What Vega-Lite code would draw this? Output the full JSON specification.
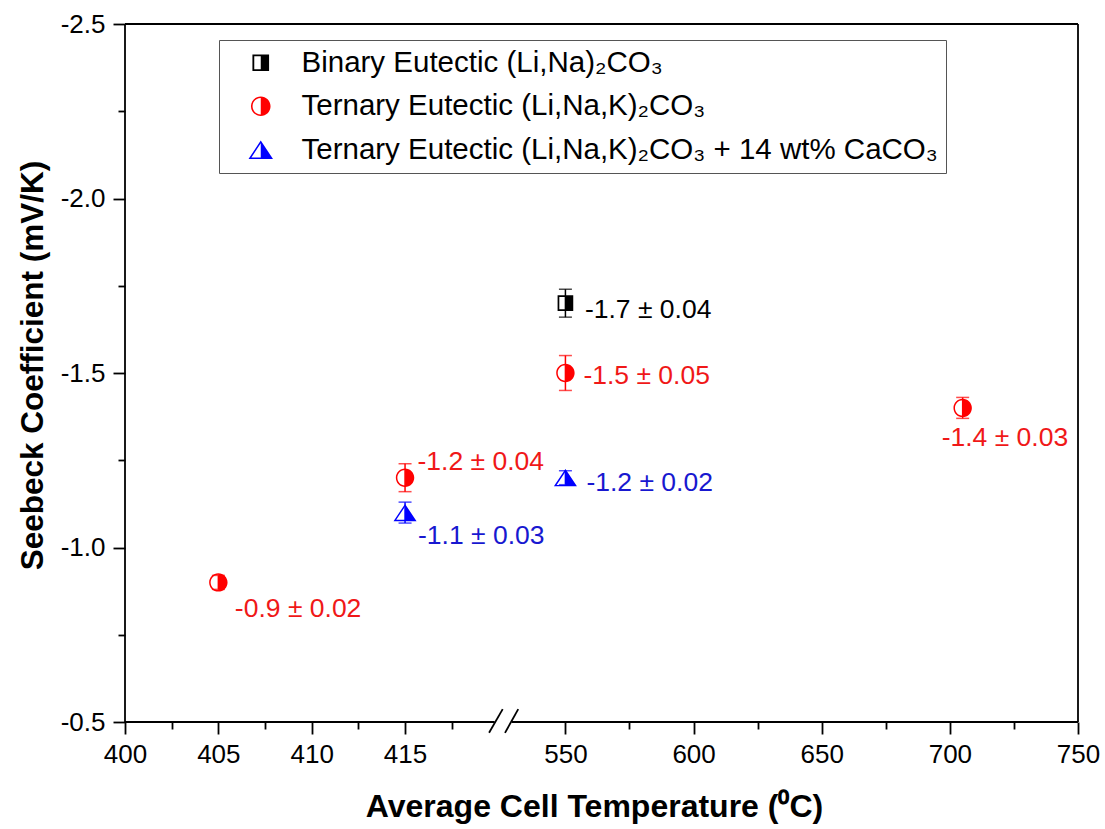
{
  "$schema": "https://vega.github.io/schema/vega-lite/v6.json",
  "width": 953,
  "height": 698,
  "autosize": {"type": "none"},
  "padding": {"left": 125, "top": 24, "right": 27, "bottom": 107},
  "background": "white",
  "config": {"view": {"stroke": null}, "font": "Liberation Sans"},
  "datasets": {
    "pts": [
      {"series": "Binary Eutectic (Li,Na)₂CO₃", "x": 550, "y": -1.7, "err": 0.04, "label": "-1.7 ± 0.04"},
      {"series": "Ternary Eutectic (Li,Na,K)₂CO₃", "x": 405, "y": -0.9, "err": 0.02, "label": "-0.9 ± 0.02"},
      {"series": "Ternary Eutectic (Li,Na,K)₂CO₃", "x": 415, "y": -1.2, "err": 0.04, "label": "-1.2 ± 0.04"},
      {"series": "Ternary Eutectic (Li,Na,K)₂CO₃", "x": 550, "y": -1.5, "err": 0.05, "label": "-1.5 ± 0.05"},
      {"series": "Ternary Eutectic (Li,Na,K)₂CO₃", "x": 705, "y": -1.4, "err": 0.03, "label": "-1.4 ± 0.03"},
      {"series": "Ternary Eutectic (Li,Na,K)₂CO₃ + 14 wt% CaCO₃", "x": 415, "y": -1.1, "err": 0.03, "label": "-1.1 ± 0.03"},
      {"series": "Ternary Eutectic (Li,Na,K)₂CO₃ + 14 wt% CaCO₃", "x": 550, "y": -1.2, "err": 0.02, "label": "-1.2 ± 0.02"}
    ],
    "frame": [
      {"x": 400, "x2": 750, "y": -2.5, "y2": -2.5},
      {"x": 750, "x2": 750, "y": -2.5, "y2": -0.5},
      {"x": 400, "x2": 400, "y": -2.5, "y2": -0.5},
      {"x": 400, "x2": 419.8, "y": -0.5, "y2": -0.5},
      {"x": 529, "x2": 750, "y": -0.5, "y2": -0.5}
    ],
    "breaks": [
      {"x": 419.5, "x2": 455.5, "y": -0.469, "y2": -0.537},
      {"x": 474.5, "x2": 531.6, "y": -0.469, "y2": -0.537}
    ]
  },
  "encoding": {
    "x": {
      "field": "x", "type": "quantitative",
      "scale": {"domain": [400, 420, 529, 750], "range": [0, 373.4, 386.6, 953], "nice": false, "zero": false},
      "axis": {
        "values": [400, 402.5, 405, 407.5, 410, 412.5, 415, 417.5, 550, 575, 600, 625, 650, 675, 700, 725, 750],
        "domain": false, "grid": false,
        "tickColor": "black", "tickWidth": 1.8,
        "tickSize": {"condition": {"test": "datum.value % 50 == 0 || (datum.value < 420 && datum.value % 5 == 0)", "value": 12}, "value": 7},
        "labelExpr": "(datum.value % 50 == 0 || (datum.value < 420 && datum.value % 5 == 0)) ? datum.label : ''",
        "labelFont": "Liberation Sans", "labelFontSize": 26, "labelColor": "black", "labelPadding": 7,
        "labelFlush": false, "labelOverlap": false, "labelBound": false,
        "title": "Average Cell Temperature (⁰C)", "titleFont": "Liberation Sans", "titleFontSize": 32,
        "titleFontWeight": "bold", "titleColor": "black", "titlePadding": 24, "titleX": 469
      }
    },
    "y": {
      "field": "y", "type": "quantitative",
      "scale": {"domain": [-2.5, -0.5], "reverse": true, "nice": false, "zero": false},
      "axis": {
        "values": [-2.5, -2.25, -2, -1.75, -1.5, -1.25, -1, -0.75, -0.5],
        "domain": false, "grid": false,
        "tickColor": "black", "tickWidth": 1.8,
        "tickSize": {"condition": {"test": "abs(datum.value * 2 - round(datum.value * 2)) < 0.001", "value": 12}, "value": 7},
        "labelExpr": "abs(datum.value * 2 - round(datum.value * 2)) < 0.001 ? replace(format(datum.value, '.1f'), '−', '-') : ''",
        "labelFont": "Liberation Sans", "labelFontSize": 26, "labelColor": "black", "labelPadding": 8,
        "labelOverlap": false, "labelBound": false,
        "title": "Seebeck Coefficient (mV/K)", "titleFont": "Liberation Sans", "titleFontSize": 31.5,
        "titleFontWeight": "bold", "titleColor": "black", "titlePadding": 11, "titleY": 341
      }
    }
  },
  "layer": [
    {
      "data": {"name": "frame"},
      "mark": {"type": "rule", "color": "black", "strokeWidth": 1.8},
      "encoding": {"x2": {"field": "x2"}, "y2": {"field": "y2"}}
    },
    {
      "data": {"name": "breaks"},
      "mark": {"type": "rule", "color": "black", "strokeWidth": 1.8},
      "encoding": {"x2": {"field": "x2"}, "y2": {"field": "y2"}}
    },
    {
      "data": {"name": "pts"},
      "transform": [{"filter": {"field": "series", "equal": "Binary Eutectic (Li,Na)₂CO₃"}}],
      "mark": {"type": "errorbar", "ticks": true, "size": 13, "thickness": 1.5, "color": "#000000"},
      "encoding": {"yError": {"field": "err"}}
    },
    {
      "data": {"name": "pts"},
      "transform": [{"filter": {"field": "series", "equal": "Ternary Eutectic (Li,Na,K)₂CO₃"}}],
      "mark": {"type": "errorbar", "ticks": true, "size": 13, "thickness": 1.5, "color": "#ff0000"},
      "encoding": {"yError": {"field": "err"}}
    },
    {
      "data": {"name": "pts"},
      "transform": [{"filter": {"field": "series", "equal": "Ternary Eutectic (Li,Na,K)₂CO₃ + 14 wt% CaCO₃"}}],
      "mark": {"type": "errorbar", "ticks": true, "size": 13, "thickness": 1.5, "color": "#0000ff"},
      "encoding": {"yError": {"field": "err"}}
    },
    {
      "data": {"name": "pts"},
      "mark": {"type": "point", "filled": true, "opacity": 1, "size": 530, "strokeWidth": 0},
      "encoding": {
        "color": {
          "field": "series", "type": "nominal",
          "scale": {
            "domain": ["Binary Eutectic (Li,Na)₂CO₃", "Ternary Eutectic (Li,Na,K)₂CO₃", "Ternary Eutectic (Li,Na,K)₂CO₃ + 14 wt% CaCO₃"],
            "range": ["#000000", "#ff0000", "#0000ff"]
          },
          "legend": {
            "title": null, "orient": "none", "legendX": 94, "legendY": 16,
            "labelFont": "Liberation Sans", "labelFontSize": 29.5, "labelColor": "black", "labelLimit": 0,
            "strokeColor": "#555555", "fillColor": "white", "padding": 8,
            "symbolOffset": 19, "labelOffset": 26, "rowPadding": 12.5,
            "symbolSize": 600, "symbolStrokeWidth": 0
          }
        },
        "shape": {
          "field": "series", "type": "nominal",
          "scale": {
            "domain": ["Binary Eutectic (Li,Na)₂CO₃", "Ternary Eutectic (Li,Na,K)₂CO₃", "Ternary Eutectic (Li,Na,K)₂CO₃ + 14 wt% CaCO₃"],
            "range": [
              "M-0.68 -0.68L0.68 -0.68L0.68 0.68L-0.68 0.68Z M-0.53 -0.53L-0.53 0.53L0.53 0.53L0.53 -0.53Z M0 -0.53L0.53 -0.53L0.53 0.53L0 0.53Z",
              "M0 -0.8A0.8 0.8 0 0 1 0.8 0A0.8 0.8 0 0 1 0 0.8A0.8 0.8 0 0 1 -0.8 0A0.8 0.8 0 0 1 0 -0.8Z M0 -0.67A0.67 0.67 0 0 0 -0.67 0A0.67 0.67 0 0 0 0 0.67A0.67 0.67 0 0 0 0.67 0A0.67 0.67 0 0 0 0 -0.67Z M0 -0.67A0.67 0.67 0 0 1 0.67 0A0.67 0.67 0 0 1 0 0.67Z",
              "M0 -0.75L1 0.75L-1 0.75Z M0 -0.524L-0.766 0.625L0.766 0.625Z M0 -0.524L0.766 0.625L0 0.625Z"
            ]
          },
          "legend": {
            "title": null, "orient": "none", "legendX": 94, "legendY": 16,
            "labelFont": "Liberation Sans", "labelFontSize": 29.5, "labelColor": "black", "labelLimit": 0,
            "strokeColor": "#555555", "fillColor": "white", "padding": 8,
            "symbolOffset": 19, "labelOffset": 26, "rowPadding": 12.5,
            "symbolSize": 600, "symbolStrokeWidth": 0
          }
        }
      }
    },
    {
      "data": {"name": "pts"},
      "transform": [{"filter": {"field": "label", "equal": "-1.7 ± 0.04"}}],
      "mark": {"type": "text", "align": "left", "baseline": "middle", "dx": 19.5, "dy": 7, "fontSize": 26.5, "font": "Liberation Sans", "color": "#000000"},
      "encoding": {"text": {"field": "label"}}
    },
    {
      "data": {"name": "pts"},
      "transform": [{"filter": {"field": "label", "equal": "-1.5 ± 0.05"}}],
      "mark": {"type": "text", "align": "left", "baseline": "middle", "dx": 18, "dy": 3, "fontSize": 26.5, "font": "Liberation Sans", "color": "#f01818"},
      "encoding": {"text": {"field": "label"}}
    },
    {
      "data": {"name": "pts"},
      "transform": [{"filter": {"field": "label", "equal": "-1.2 ± 0.04"}}],
      "mark": {"type": "text", "align": "left", "baseline": "middle", "dx": 12.5, "dy": -15.5, "fontSize": 26.5, "font": "Liberation Sans", "color": "#f01818"},
      "encoding": {"text": {"field": "label"}}
    },
    {
      "data": {"name": "pts"},
      "transform": [{"filter": {"field": "label", "equal": "-1.1 ± 0.03"}}],
      "mark": {"type": "text", "align": "left", "baseline": "middle", "dx": 13, "dy": 23.5, "fontSize": 26.5, "font": "Liberation Sans", "color": "#1818d0"},
      "encoding": {"text": {"field": "label"}}
    },
    {
      "data": {"name": "pts"},
      "transform": [{"filter": {"field": "label", "equal": "-0.9 ± 0.02"}}],
      "mark": {"type": "text", "align": "left", "baseline": "middle", "dx": 16.5, "dy": 26.5, "fontSize": 26.5, "font": "Liberation Sans", "color": "#f01818"},
      "encoding": {"text": {"field": "label"}}
    },
    {
      "data": {"name": "pts"},
      "transform": [{"filter": {"field": "label", "equal": "-1.4 ± 0.03"}}],
      "mark": {"type": "text", "align": "left", "baseline": "middle", "dx": -21, "dy": 30.5, "fontSize": 26.5, "font": "Liberation Sans", "color": "#f01818"},
      "encoding": {"text": {"field": "label"}}
    },
    {
      "data": {"name": "pts"},
      "transform": [{"filter": {"field": "label", "equal": "-1.2 ± 0.02"}}],
      "mark": {"type": "text", "align": "left", "baseline": "middle", "dx": 21, "dy": 5, "fontSize": 26.5, "font": "Liberation Sans", "color": "#1818d0"},
      "encoding": {"text": {"field": "label"}}
    }
  ]
}
